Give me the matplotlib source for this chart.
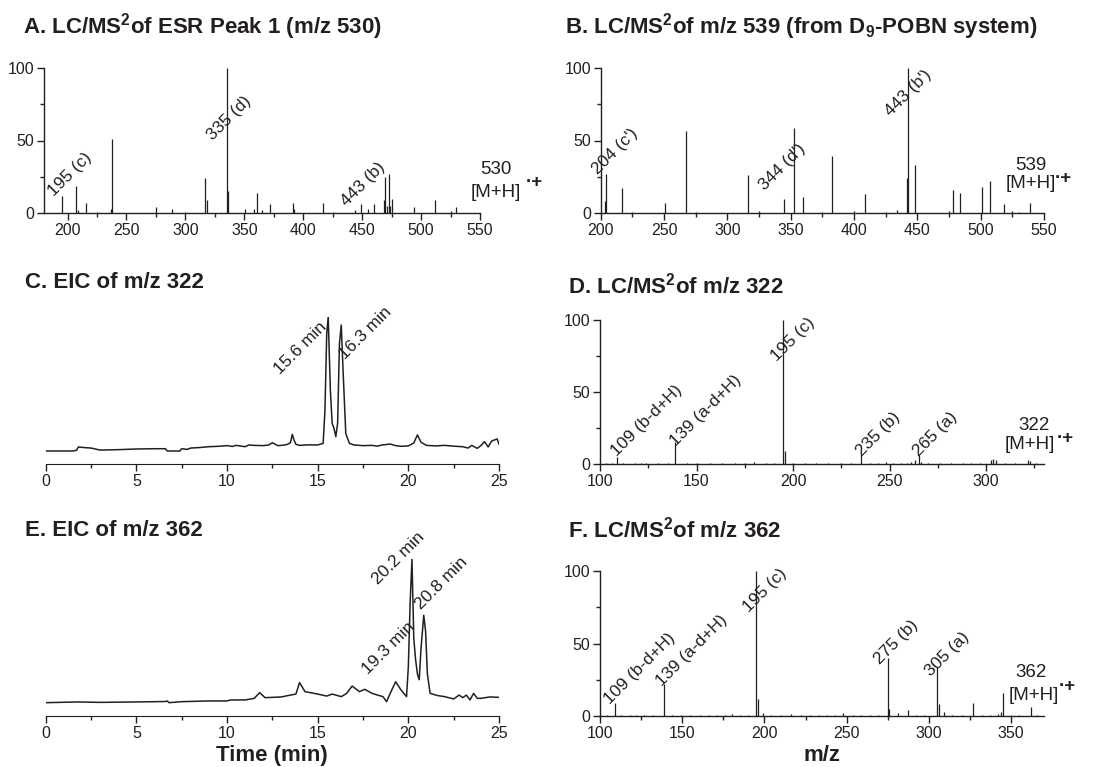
import numpy as np
import matplotlib
matplotlib.use('Agg')
import matplotlib.pyplot as plt
from matplotlib.ticker import MultipleLocator

plt.rcParams['font.family'] = ['Liberation Sans', 'DejaVu Sans']
plt.rcParams['mathtext.fontset'] = 'custom'
plt.rcParams['mathtext.rm'] = 'Liberation Sans'
plt.rcParams['mathtext.bf'] = 'Liberation Sans:bold'
plt.rcParams['mathtext.it'] = 'Liberation Sans:italic'

INK = '#231f20'

# --- data: MS/MS spectra (m/z, relative intensity) ---
a_mz = [195, 207, 208.6, 216, 225, 237, 238, 275, 288.6, 300, 316.6, 318, 335, 336.2, 350.3,
        358.2, 361, 365, 372, 391.3, 392.2, 417, 425, 444, 449.3, 455, 460.4, 468.6, 469.4,
        471.4, 472.8, 473.6, 475, 494.3, 512, 525, 530]
a_int = [11.5, 18.5, 2.3, 7, 1, 3, 51, 4, 3, 1, 24, 9, 100, 15, 3,
         3, 14, 2, 6, 7, 3, 7, 1, 2, 6.5, 3, 6, 9, 25,
         5, 27, 4.5, 9.5, 4, 9, 1.5, 4]

b_mz = [203.5, 204, 216.6, 225, 250.5, 267, 275, 316.2, 325, 345, 352.8, 359.6, 375, 382.8,
        400, 408.8, 425, 434, 442, 443, 448, 475, 478, 483.3, 501, 507.7, 518.8, 525, 530, 539]
b_int = [8, 27, 17, 1, 7, 56.6, 1, 26, 1.5, 10, 58.7, 11, 1, 39,
         1.5, 13.4, 1, 2.3, 24, 100, 33, 1.5, 16, 14, 18, 22, 6.5, 1.5, 1, 6.7]

d_mz = [103, 106, 109, 112, 118, 121, 124, 130, 135, 139, 145, 150, 157, 163, 170, 175,
        180, 186, 190, 195, 196, 200, 206, 212, 218, 225, 230, 235, 240, 244, 248, 252,
        256, 259, 261, 263, 265, 266.5, 270, 276, 282, 288, 292, 297, 302.5, 303.5, 305,
        310, 315, 321.5, 322.5, 326]
d_int = [0.6, 0.5, 5, 0.6, 0.8, 0.5, 0.7, 0.5, 0.6, 15.5, 0.5, 0.7, 0.6, 0.5, 0.8, 0.6,
         1.2, 0.5, 0.7, 100, 9, 0.6, 0.5, 0.7, 0.5, 0.8, 0.6, 6.3, 0.7, 0.6, 1.2, 0.5,
         0.8, 1.0, 1.3, 2.8, 6, 1.5, 0.7, 0.6, 0.5, 0.8, 0.6, 0.5, 2.8, 3.5, 2.8,
         0.6, 0.5, 2.8, 2, 0.6]

f_mz = [104, 109, 113, 118, 122, 127, 132, 139, 144, 149, 155, 161, 166, 171, 176, 180,
        185, 190, 195, 196, 199, 204, 210, 216, 222, 228, 233, 238, 243, 248, 254, 259,
        264, 269, 275, 276, 281, 287, 292, 297, 305, 306, 309, 314, 320, 327, 332, 337,
        342, 344, 345, 350, 355, 362, 366]
f_int = [0.6, 8.7, 0.5, 0.8, 1.0, 0.6, 0.5, 22, 0.5, 0.7, 0.6, 0.8, 0.5, 0.7, 1.0, 1.5,
         0.8, 0.6, 100, 11.7, 2.3, 0.8, 0.6, 1.2, 0.7, 0.6, 0.8, 0.5, 0.7, 1.8, 0.6, 0.5,
         0.8, 1.0, 40, 5, 2, 4, 0.8, 0.6, 34, 8, 2.5, 0.7, 0.8, 9, 0.6, 0.5,
         1.2, 3, 16, 0.6, 0.5, 6.5, 0.5]

# --- data: extracted ion chromatograms (time in min, relative intensity) ---
c_t = [0, 1.5, 1.7, 1.8, 2.0, 2.5, 3.0, 4.0, 5.0, 6.0, 6.6, 6.7, 7.4, 7.5, 7.8, 8.0, 8.5,
       9.0, 9.5, 10.0, 10.3, 10.5, 11.0, 11.2, 11.5, 12.0, 12.3, 12.5, 12.8, 13.0, 13.3,
       13.5, 13.6, 13.7, 13.8, 14.0, 14.5, 15.0, 15.3, 15.4, 15.5, 15.58, 15.7, 15.8, 15.9,
       16.0, 16.1, 16.2, 16.3, 16.4, 16.55, 16.75, 17.0, 17.5, 18.0, 18.3, 18.5, 19.0, 19.3,
       19.6, 20.0, 20.3, 20.5, 20.7, 21.0, 21.5, 22.0, 22.5, 23.0, 23.3, 23.5, 23.8, 24.0,
       24.2, 24.4, 24.6, 24.8, 24.9, 25.0]
c_int = [0, 0, 0.5, 3.0, 2.7, 2.2, 0.7, 1.0, 1.5, 1.7, 1.7, 0, 0, 1.7, 1.2, 2.2, 2.6,
         3.2, 3.5, 4.0, 3.4, 4.2, 3.2, 4.5, 4.2, 4.0, 4.5, 6.2, 4.0, 4.2, 4.8,
         6.2, 12.4, 8.0, 5.0, 4.2, 4.6, 4.5, 5.7, 30, 88, 100, 45, 20.6, 16.9,
         10.7, 20.6, 80, 94, 60, 13, 5.7, 4.5, 4.0, 4.2, 3.6, 4.4, 5.2, 4.0,
         3.5, 3.8, 6.0, 12.0, 6.5, 4.2, 3.8, 4.2, 3.6, 3.2, 2.2, 4.2, 2.0, 4.0,
         7.0, 3.0, 7.5, 8.5, 9.0, 5.0]

e_t = [0, 1.8, 3.0, 5.0, 6.6, 6.7, 6.8, 7.5, 9.0, 10.0, 10.2, 11.0, 11.5, 11.8, 12.1,
       12.5, 13.0, 13.5, 13.8, 14.0, 14.3, 15.0, 15.5, 15.8, 16.3, 16.6, 16.9, 17.3, 17.6,
       18.0, 18.3, 18.6, 18.8, 19.0, 19.3, 19.6, 19.9, 20.0, 20.1, 20.2, 20.3, 20.4, 20.5,
       20.6, 20.7, 20.85, 20.95, 21.05, 21.2, 21.6, 22.0, 22.5, 22.8, 23.0, 23.2, 23.4,
       23.6, 23.8, 24.0, 24.5, 25.0]
e_int = [0, 0.5, 0.2, 0.5, 0.8, 1.2, 0, 0.7, 1.2, 1.2, 1.9, 1.9, 3.0, 7.0, 3.5,
         3.7, 4.0, 5.3, 6.0, 14, 7.7, 6.0, 4.6, 6.0, 4.2, 6.5, 11.6, 7.7, 9.3,
         6.5, 5.3, 4.2, 0.7, 6.5, 14.6, 8.8, 4.2, 25, 70, 100, 45, 30, 20,
         16, 38, 61, 50, 20, 6.5, 5.0, 4.2, 2.6, 5.3, 3.5, 5.3, 1.9,
         6.5, 3.0, 3.0, 4.0, 3.7]

W, H = 1101, 767
fig = plt.figure(figsize=(W / 100, H / 100), dpi=100)


def px_axes(left, top, right, bottom):
    return fig.add_axes([left / W, 1 - bottom / H, (right - left) / W, (bottom - top) / H])


def style_spectrum(ax, xlim, xmajor):
    ax.set_xlim(*xlim)
    ax.set_ylim(0, 100)
    for s in ['top', 'right']:
        ax.spines[s].set_visible(False)
    for s in ['left', 'bottom']:
        ax.spines[s].set_color(INK)
        ax.spines[s].set_linewidth(1.0)
    ax.xaxis.set_major_locator(MultipleLocator(xmajor))
    ax.xaxis.set_minor_locator(MultipleLocator(xmajor / 2))
    ax.yaxis.set_major_locator(MultipleLocator(50))
    ax.yaxis.set_minor_locator(MultipleLocator(25))
    ax.tick_params(which='major', length=5, width=1, colors=INK, labelsize=11.5, pad=2)
    ax.tick_params(which='minor', length=3, width=1, colors=INK)


def style_chrom(ax, ylim):
    ax.set_xlim(0, 25)
    ax.set_ylim(*ylim)
    for s in ['top', 'right', 'left']:
        ax.spines[s].set_visible(False)
    ax.spines['bottom'].set_color(INK)
    ax.set_yticks([])
    ax.xaxis.set_major_locator(MultipleLocator(5))
    ax.xaxis.set_minor_locator(MultipleLocator(2.5))
    ax.tick_params(which='major', length=5, width=1, colors=INK, labelsize=11.5, pad=2)
    ax.tick_params(which='minor', length=3, width=1, colors=INK)


def stick(ax, mz, inten):
    ax.vlines(mz, 0, inten, colors=INK, linewidth=0.9)


def label(ax, x, y, s):
    ax.text(x, y, s, rotation=45, rotation_mode='anchor', ha='left', va='baseline',
            fontsize=12.5, color=INK, clip_on=False)


def parent(ax, x_num, y_num, num, x_mh, y_mh, x_rad, y_rad):
    ax.text(x_num, y_num, num, ha='center', va='center', fontsize=13.5, color=INK, clip_on=False)
    ax.text(x_mh, y_mh, '[M+H]', ha='center', va='center', fontsize=13.5, color=INK, clip_on=False)
    ax.text(x_rad, y_rad, '\u00b7+', ha='center', va='center', fontsize=13.5,
            fontweight='bold', color=INK, clip_on=False)


# A
axA = px_axes(44, 68, 480, 213)
stick(axA, a_mz, a_int)
style_spectrum(axA, (180, 550), 50)
label(axA, 188.5, 11, '195 (c)')
label(axA, 323.5, 50, '335 (d)')
label(axA, 437, 4.5, '443 (b)')
parent(axA, 563.5, 30, '530', 563.5, 14, 596, 21)

# B
axB = px_axes(600.7, 68, 1044, 213)
stick(axB, b_mz, b_int)
style_spectrum(axB, (200, 550), 50)
label(axB, 198, 26, "204 (c')")
label(axB, 329.5, 15, "344 (d')")
label(axB, 429.5, 66, "443 (b')")
parent(axB, 539.5, 33, '539', 539.5, 20.5, 565, 24)

# C
axC = px_axes(45.7, 317, 499, 464)
axC.plot(c_t, c_int, color=INK, linewidth=1.1)
style_chrom(axC, (-9.7, 100))
label(axC, 12.9, 57, '15.6 min')
label(axC, 16.5, 68, '16.3 min')

# D
axD = px_axes(600, 320, 1044, 464)
stick(axD, d_mz, d_int)
style_spectrum(axD, (100, 330), 50)
label(axD, 108.6, 5, '109 (b-d+H)')
label(axD, 139.4, 12, '139 (a-d+H)')
label(axD, 191.5, 71, '195 (c)')
label(axD, 235.5, 5, '235 (b)')
label(axD, 265, 5, '265 (a)')
parent(axD, 324.8, 27, '322', 322.7, 13.2, 341, 18)

# E
axE = px_axes(45.7, 559.3, 499, 716)
axE.plot(e_t, e_int, color=INK, linewidth=1.1)
style_chrom(axE, (-9.3, 100))
label(axE, 18.35, 82, '20.2 min')
label(axE, 20.7, 64.5, '20.8 min')
label(axE, 17.8, 19, '19.3 min')
axE.set_xlabel('Time (min)', fontsize=16, fontweight='bold', color=INK, labelpad=3)

# F
axF = px_axes(600, 571, 1044, 716)
stick(axF, f_mz, f_int)
style_spectrum(axF, (100, 370), 50)
label(axF, 106, 7.6, '109 (b-d+H)')
label(axF, 137.5, 20, '139 (a-d+H)')
label(axF, 190.8, 71, '195 (c)')
label(axF, 270.3, 35, '275 (b)')
label(axF, 301, 27, '305 (a)')
parent(axF, 362.2, 30, '362', 364, 14, 384, 20)
axF.set_xlabel('m/z', fontsize=16, fontweight='bold', color=INK, labelpad=3)

# panel titles
titles = [
    (23, 27, r'A. LC/MS$^{\mathbf{2}}$of ESR Peak 1 (m/z 530)'),
    (565, 27, r'B. LC/MS$^{\mathbf{2}}$of m/z 539 (from D$_{\mathbf{9}}$-POBN system)'),
    (25, 283, 'C. EIC of m/z 322'),
    (568, 286, r'D. LC/MS$^{\mathbf{2}}$of m/z 322'),
    (25, 530, 'E. EIC of m/z 362'),
    (568, 530, r'F. LC/MS$^{\mathbf{2}}$of m/z 362'),
]
for x, y, s in titles:
    fig.text(x / W, 1 - y / H, s, ha='left', va='center', fontsize=16,
             fontweight='bold', color=INK)

fig.savefig('out.png', dpi=100)
